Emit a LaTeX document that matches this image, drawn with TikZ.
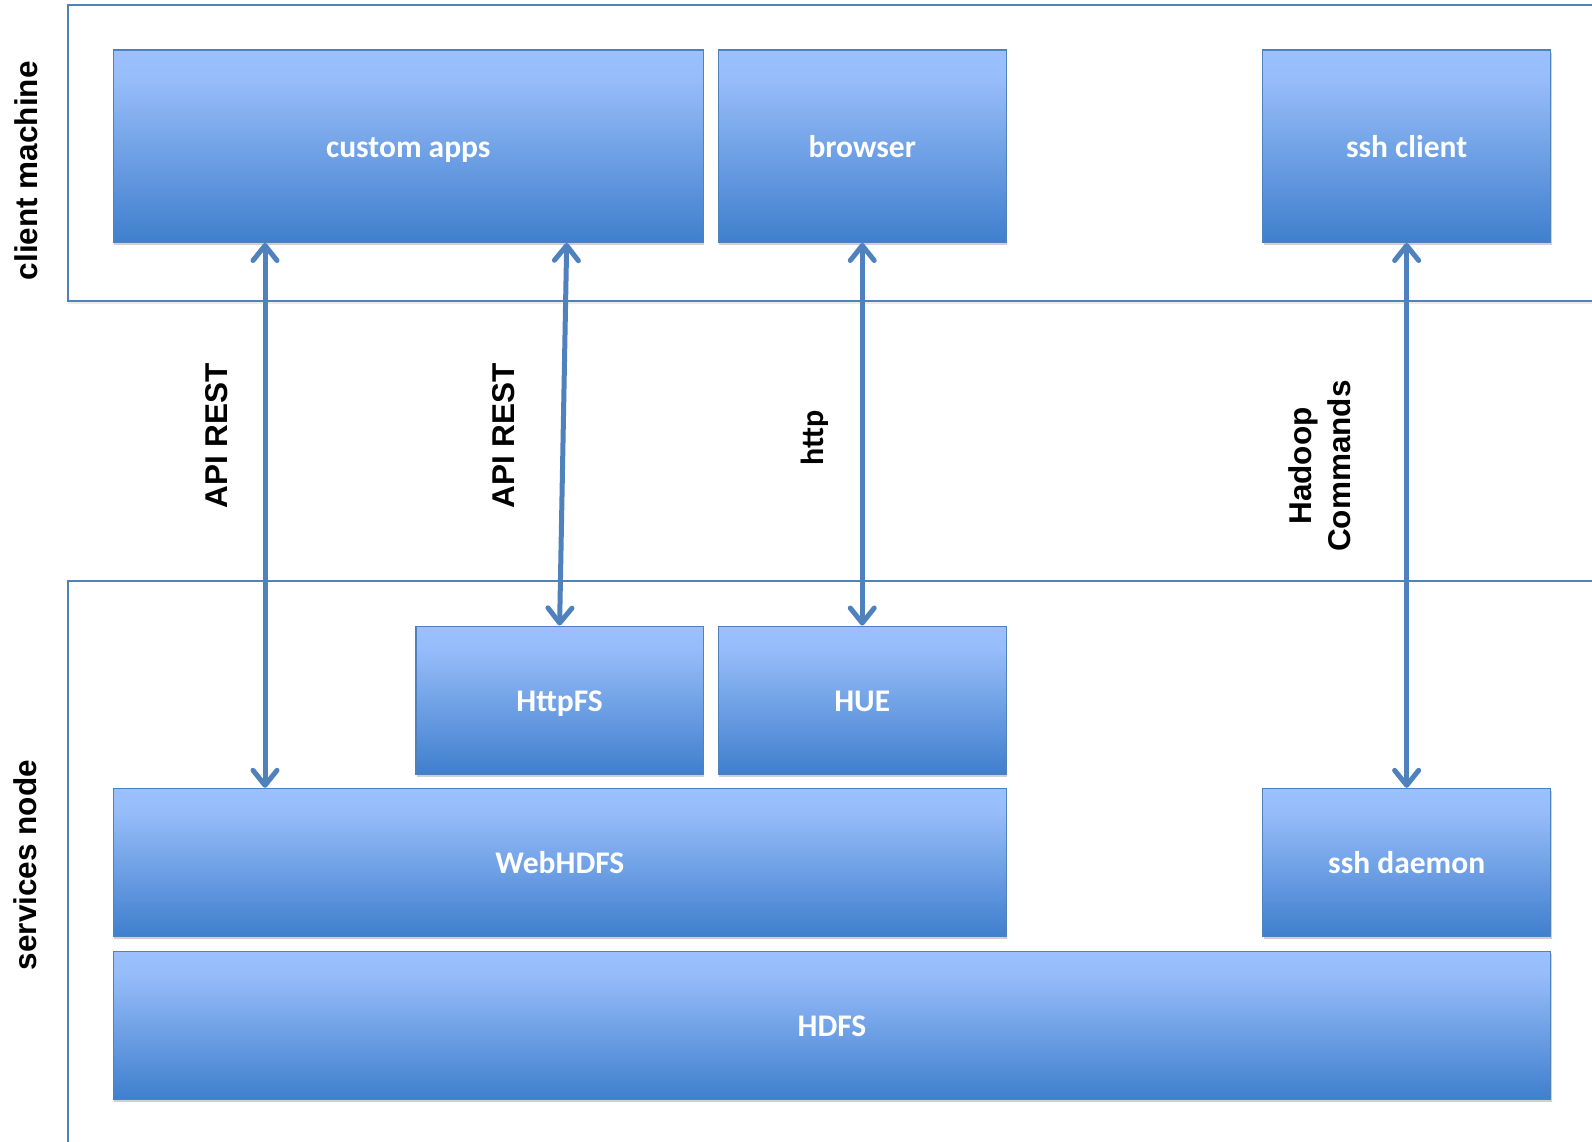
\documentclass[tikz,border=0pt]{standalone}
\usepackage{fontspec}
\setmainfont{Carlito}
\newfontfamily\arialfont{Liberation Sans}
\usetikzlibrary{arrows.meta,shadows}
\definecolor{gtop}{RGB}{155,192,253}
\definecolor{gtopb}{RGB}{150,188,249}
\definecolor{gbot}{RGB}{63,127,205}
\definecolor{edgec}{RGB}{79,129,189}
\definecolor{arrowc}{RGB}{79,129,189}
\pgfdeclareverticalshading{boxgrad}{100bp}{color(0bp)=(gbot); color(25bp)=(gbot); color(67bp)=(gtopb); color(75bp)=(gtop); color(100bp)=(gtop)}
\begin{document}
\begin{tikzpicture}[x=1pt,y=-1pt,
  blk/.style={draw=edgec, line width=1.3pt, shading=boxgrad, inner sep=0pt,
    anchor=north west, text height=22pt, text depth=0pt,
    font=\bfseries\fontsize{31.5}{36}\selectfont, text=white,
    drop shadow={shadow xshift=1pt, shadow yshift=-3pt, opacity=0.3, fill=black!60}},
  encl/.style={draw=edgec, line width=1.6pt, fill=white,
    drop shadow={shadow xshift=0pt, shadow yshift=-3pt, opacity=0.12, fill=black!60}},
  lab/.style={inner sep=0pt, rotate=90, text=black,
    font=\arialfont\bfseries\fontsize{31.5}{39}\selectfont},
  labc/.style={inner sep=0pt, rotate=90, text=black,
    font=\bfseries\fontsize{32}{39}\selectfont},
  arr/.style={draw=arrowc, line width=5pt,
    {Straight Barb[round,length=15pt,width=24pt]}-{Straight Barb[round,length=15pt,width=24pt]}}
]
\useasboundingbox (0,0) rectangle (1592,1141);
\clip (0,0) rectangle (1592,1141);
\fill[white] (0,0) rectangle (1592,1141);

% enclosures
\draw[encl] (68,5) rectangle (1620,301);
\draw[encl] (68,581) rectangle (1620,1170);

% blocks
\node[blk, minimum width=589.9pt, minimum height=192.4pt] (apps) at (112.7,49.3) {custom apps};
\node[blk, minimum width=288.2pt, minimum height=192.4pt] (browser) at (717.5,49.3) {browser};
\node[blk, minimum width=288pt, minimum height=192.4pt] (sshc) at (1262,49.3) {ssh client};
\node[blk, minimum width=287.3pt, minimum height=148pt] (httpfs) at (415.3,625.5) {HttpFS};
\node[blk, minimum width=288.2pt, minimum height=148pt] (hue) at (717.5,625.5) {HUE};
\node[blk, minimum width=893pt, minimum height=148pt] (webhdfs) at (112.7,787.8) {WebHDFS};
\node[blk, minimum width=288pt, minimum height=148pt] (sshd) at (1262,787.8) {ssh daemon};
\node[blk, minimum width=1437.3pt, minimum height=148pt] (hdfs) at (112.7,950.5) {HDFS};

% connectors
\coordinate (xa) at (265,0);
\coordinate (xb) at (566.7,0);
\draw[arr] (xa |- apps.south) -- (xa |- webhdfs.north);
\draw[arr] (xb |- apps.south) -- (httpfs.north);
\draw[arr] (browser.south) -- (hue.north);
\draw[arr] (sshc.south) -- (sshd.north);

% labels
\node[lab, anchor=south] (lcm) at (38.3,170.8) {client machine};
\node[lab, anchor=south] (lsn) at (36.7,865) {services node};
\node[lab, anchor=south] (lapi1) at (228.3,435.7) {API REST};
\node[lab, anchor=south] (lapi2) at (515,435.7) {API REST};
\node[labc, anchor=base] (lhttp) at (823.3,437.5) {http};
\node[lab, align=center] (lhad) at (1320,466) {Hadoop\\Commands};
\end{tikzpicture}
\end{document}
